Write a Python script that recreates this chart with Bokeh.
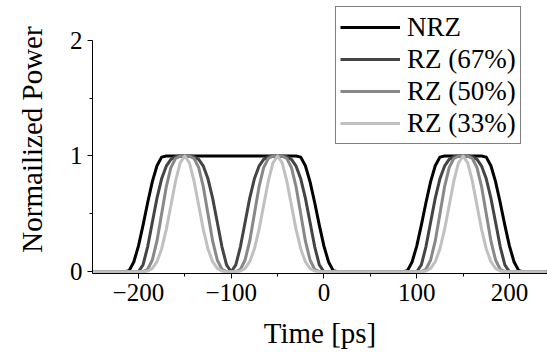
from bokeh.plotting import figure
from bokeh.models import Range1d, FixedTicker, Legend, LegendItem
from bokeh.embed import file_html
from bokeh.resources import INLINE

# ---------------- data ----------------
time_ps = list(range(-250, 245, 5))   # sample instants, -250 ... 240 ps

nrz = [
    0, 0, 0, 0, 0, 0, 0, 0,                                   # -250 .. -215
    0.010, 0.084, 0.222, 0.403, 0.598, 0.778, 0.916, 0.990,   # -210 .. -175
    1, 1, 1, 1, 1, 1, 1, 1, 1, 1,                             # -170 .. -125
    1, 1, 1, 1, 1, 1, 1, 1, 1, 1,                             # -120 .. -75
    1, 1, 1, 1, 1, 1, 1, 1, 1,                                # -70 .. -30
    0.990, 0.916, 0.778, 0.598, 0.403, 0.222, 0.084, 0.010,   # -25 .. 10
    0, 0, 0, 0, 0, 0, 0, 0, 0, 0, 0, 0, 0, 0, 0,              # 15 .. 85
    0.010, 0.084, 0.222, 0.403, 0.598, 0.778, 0.916, 0.990,   # 90 .. 125
    1, 1, 1, 1, 1, 1, 1, 1, 1,                                # 130 .. 170
    0.990, 0.916, 0.778, 0.598, 0.403, 0.222, 0.084, 0.010,   # 175 .. 210
    0, 0, 0, 0, 0, 0,                                         # 215 .. 240
]

rz67 = [
    0, 0, 0, 0, 0, 0, 0, 0, 0, 0, 0,                          # -250 .. -200
    0.059, 0.218, 0.428, 0.636, 0.803, 0.912, 0.971, 0.994, 0.999, 1.0,
    0.999, 0.994, 0.971, 0.912, 0.803, 0.636, 0.428, 0.218, 0.059,   # -195 .. -105
    0,                                                        # -100
    0.059, 0.218, 0.428, 0.636, 0.803, 0.912, 0.971, 0.994, 0.999, 1.0,
    0.999, 0.994, 0.971, 0.912, 0.803, 0.636, 0.428, 0.218, 0.059,   # -95 .. -5
    0, 0, 0, 0, 0, 0, 0, 0, 0, 0, 0, 0, 0, 0, 0, 0, 0, 0, 0, 0, 0,  # 0 .. 100
    0.059, 0.218, 0.428, 0.636, 0.803, 0.912, 0.971, 0.994, 0.999, 1.0,
    0.999, 0.994, 0.971, 0.912, 0.803, 0.636, 0.428, 0.218, 0.059,   # 105 .. 195
    0, 0, 0, 0, 0, 0, 0, 0, 0,                                # 200 .. 240
]

rz50 = [
    0, 0, 0, 0, 0, 0, 0, 0, 0, 0, 0,                          # -250 .. -200
    0.001, 0.022, 0.102, 0.266, 0.500, 0.733, 0.899, 0.978, 0.999, 1.0,
    0.999, 0.978, 0.899, 0.733, 0.500, 0.266, 0.102, 0.022, 0.001,  # -195 .. -105
    0,                                                        # -100
    0.001, 0.022, 0.102, 0.266, 0.500, 0.733, 0.899, 0.978, 0.999, 1.0,
    0.999, 0.978, 0.899, 0.733, 0.500, 0.266, 0.102, 0.022, 0.001,  # -95 .. -5
    0, 0, 0, 0, 0, 0, 0, 0, 0, 0, 0, 0, 0, 0, 0, 0, 0, 0, 0, 0, 0,  # 0 .. 100
    0.001, 0.022, 0.102, 0.266, 0.500, 0.733, 0.899, 0.978, 0.999, 1.0,
    0.999, 0.978, 0.899, 0.733, 0.500, 0.266, 0.102, 0.022, 0.001,  # 105 .. 195
    0, 0, 0, 0, 0, 0, 0, 0, 0,                                # 200 .. 240
]

rz33 = [
    0, 0, 0, 0, 0, 0, 0, 0, 0, 0, 0,                          # -250 .. -200
    0.000, 0.006, 0.029, 0.087, 0.197, 0.364, 0.572, 0.782, 0.941, 1.0,
    0.941, 0.782, 0.572, 0.364, 0.197, 0.087, 0.029, 0.006, 0.000,  # -195 .. -105
    0,                                                        # -100
    0.000, 0.006, 0.029, 0.087, 0.197, 0.364, 0.572, 0.782, 0.941, 1.0,
    0.941, 0.782, 0.572, 0.364, 0.197, 0.087, 0.029, 0.006, 0.000,  # -95 .. -5
    0, 0, 0, 0, 0, 0, 0, 0, 0, 0, 0, 0, 0, 0, 0, 0, 0, 0, 0, 0, 0,  # 0 .. 100
    0.000, 0.006, 0.029, 0.087, 0.197, 0.364, 0.572, 0.782, 0.941, 1.0,
    0.941, 0.782, 0.572, 0.364, 0.197, 0.087, 0.029, 0.006, 0.000,  # 105 .. 195
    0, 0, 0, 0, 0, 0, 0, 0, 0,                                # 200 .. 240
]

series_names = ["NRZ", "RZ (67%)", "RZ (50%)", "RZ (33%)"]
series_colors = ["#000000", "#444444", "#888888", "#c0c0c0"]

x_major_ticks = [-200, -100, 0, 100, 200]
x_minor_ticks = [-150, -50, 50, 150]
y_major_ticks = [0, 1, 2]
y_minor_ticks = [0.5, 1.5]

x_label = "Time [ps]"
y_label = "Normailized Power"

# ---------------- figure ----------------
FONT = "'Liberation Serif', 'Times New Roman', serif"

p = figure(width=547, height=352, output_backend="svg", toolbar_location=None,
           x_range=Range1d(-249.5, 241), y_range=Range1d(-0.015, 2.30),
           min_border_left=92, min_border_right=0, min_border_top=5,
           min_border_bottom=79)
p.outline_line_color = None
p.grid.visible = False
p.background_fill_color = "white"
p.border_fill_color = "white"

renderers = []
for ys, col in zip([nrz, rz67, rz50, rz33], series_colors):
    r = p.line(time_ps, ys, line_color=col, line_width=3, line_join="round")
    renderers.append(r)

# axes
for ax in (p.xaxis[0], p.yaxis[0]):
    ax.axis_line_color = "black"
    ax.axis_line_width = 1
    ax.major_tick_line_color = "black"
    ax.minor_tick_line_color = "black"
    ax.major_tick_in = 0
    ax.major_tick_out = 5
    ax.minor_tick_in = 0
    ax.minor_tick_out = 3
    ax.major_label_text_font = FONT
    ax.major_label_text_font_size = "25px"
    ax.major_label_text_color = "black"
    ax.axis_label_text_font = FONT
    ax.axis_label_text_font_size = "29px"
    ax.axis_label_text_font_style = "normal"
    ax.axis_label_text_color = "black"

p.xaxis.ticker = FixedTicker(ticks=x_major_ticks, minor_ticks=x_minor_ticks)
p.yaxis.ticker = FixedTicker(ticks=y_major_ticks, minor_ticks=y_minor_ticks)
p.yaxis.bounds = (-0.015, 2)
p.xaxis.axis_label = x_label
p.yaxis.axis_label = y_label
p.xaxis.major_label_standoff = 5
p.yaxis.major_label_standoff = 5
p.xaxis.axis_label_standoff = 13
p.yaxis.axis_label_standoff = 19

legend = Legend(
    items=[LegendItem(label=n, renderers=[r]) for n, r in zip(series_names, renderers)],
    location=(243, 129),
    label_text_font=FONT,
    label_text_font_size="27px",
    label_text_color="black",
    glyph_width=60,
    glyph_height=32,
    label_height=32,
    label_standoff=7,
    spacing=0,
    padding=4,
    margin=0,
    border_line_color="black",
    border_line_width=1,
    background_fill_color="white",
    background_fill_alpha=1.0,
)
p.add_layout(legend)

open("out.html", "w").write(file_html(p, INLINE))
